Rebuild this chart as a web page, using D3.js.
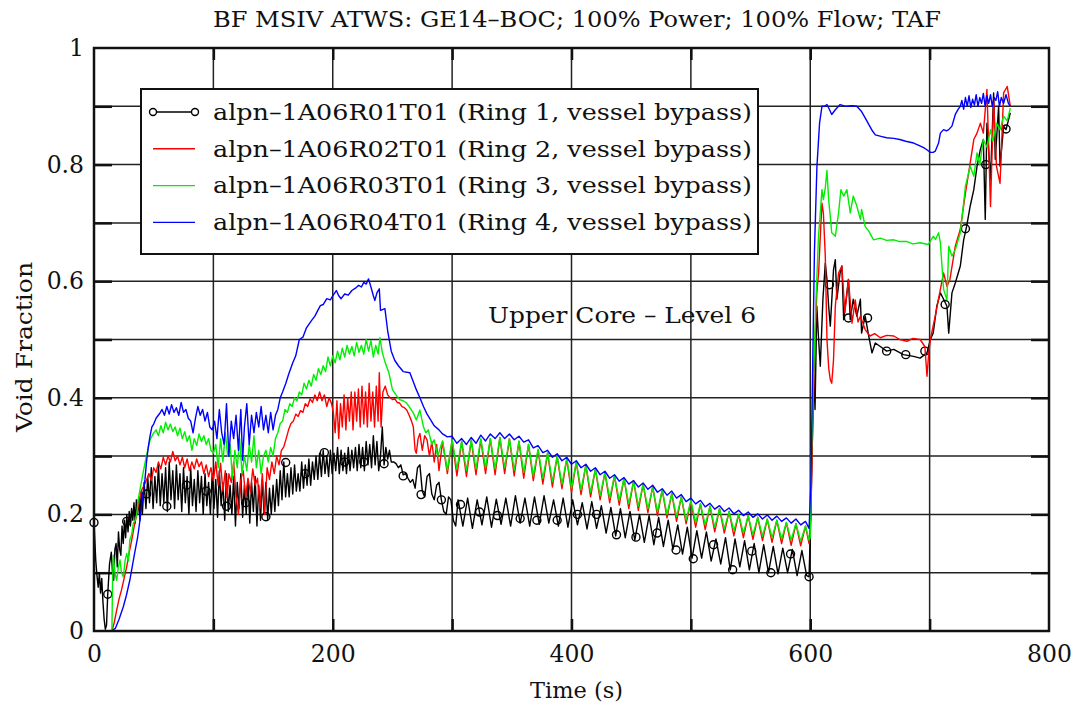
<!DOCTYPE html>
<html>
<head>
<meta charset="utf-8">
<script src="https://cdn.jsdelivr.net/npm/d3@7"></script>
<style>
    body { margin: 0; background: #fff; }
    text { font-family: "DejaVu Serif", serif; fill: #111; }
</style>
</head>
<body>
<div id="chart"></div>
<script>
// values, [time (s), void fraction]
const ring1 = [
    [0,0.186],[1.5,0.12],[2.5,0.095],[3.5,0.075],[4.5,0.1],[5.5,0.065],[6.5,0.09],[7.5,0.05],[8.5,0.02],[9.5,0.003],[10.5,0.01],[11.5,0.063],[13,0.115],[14.5,0.135],[15.5,0.1],
    [16.5,0.087],[17.5,0.14],[18.5,0.15],[19.5,0.11],[20.5,0.17],[21.5,0.14],[22.5,0.13],[23.5,0.18],[24.5,0.15],[25.5,0.19],[26.5,0.16],[27.5,0.2],[28.5,0.17],[29.5,0.205],
    [30.5,0.18],[31.5,0.21],[32.5,0.19],[33.5,0.22],[34.5,0.185],[35.5,0.225],[36.5,0.2],[37.5,0.23],[38.5,0.19],[39.5,0.24],[40.5,0.2],
    [42,0.255],[43.5,0.21],[45,0.265],[46.5,0.22],[48,0.28],[49.5,0.21],[51,0.265],[52.5,0.22],[54,0.285],[55.5,0.215],[57,0.27],[58.5,0.22],[60,0.28],[61.5,0.205],
    [63,0.29],[64.5,0.225],[66,0.275],[67.5,0.21],[69,0.285],[70.5,0.225],[72,0.27],[73.5,0.205],[75,0.28],[76.5,0.22],[78,0.265],[79.5,0.2],[81,0.28],[82.5,0.215],
    [84,0.26],[85.5,0.205],[87,0.275],[88.5,0.22],[90,0.265],[91.5,0.2],[93,0.27],[94.5,0.215],[96,0.255],[97.5,0.2],[99,0.27],[100.5,0.21],[102,0.26],[103.5,0.195],
    [105,0.275],[106.5,0.215],[108,0.255],[109.5,0.19],[111,0.27],[112.5,0.205],[114,0.25],[115.5,0.2],[117,0.265],[118.5,0.18],[120,0.255],[121.5,0.21],[123,0.27],
    [124.5,0.195],[126,0.25],[127.5,0.2],[129,0.26],[130.5,0.185],[132,0.255],[133.5,0.205],[135,0.265],[136.5,0.18],[138,0.25],[139.5,0.19],[141,0.26],[142.5,0.2],
    [144,0.255],[145.5,0.19],[147,0.245],[148.5,0.2],[150,0.25],[151.5,0.205],[153,0.26],[154.5,0.215],[156,0.275],[157.5,0.225],[159,0.29],[160.5,0.23],[162,0.27],
    [163.5,0.23],[165,0.28],[166.5,0.235],[168,0.285],[169.5,0.24],[171,0.27],[172.5,0.24],[174,0.29],[175.5,0.245],[177,0.285],[178.5,0.25],[180,0.295],[181.5,0.25],
    [183,0.29],[184.5,0.26],[186,0.3],[187.5,0.26],[189,0.305],[190.5,0.265],[192,0.31],[193.5,0.27],[195,0.3],[196.5,0.265],[198,0.31],[199.5,0.27],[201,0.305],
    [202.5,0.275],[204,0.315],[205.5,0.27],[207,0.31],[208.5,0.275],[210,0.305],[211.5,0.27],[213,0.315],[214.5,0.275],[216,0.31],[217.5,0.28],[219,0.315],[220.5,0.275],
    [222,0.32],[223.5,0.28],[225,0.315],[226.5,0.275],[228,0.325],[229.5,0.285],[231,0.32],[232.5,0.28],[234,0.335],[235.5,0.285],[237,0.325],[238.5,0.275],[240,0.3],
    [241.5,0.35],[243,0.285],[244.5,0.315],[246,0.295],[247.5,0.31],[249,0.29],
    [251,0.29],[253,0.287],[255,0.28],[257,0.285],[259,0.268],[261,0.27],[263,0.262],[265,0.255],[267,0.26],[269,0.245],[271,0.28],[273,0.285],[275,0.24],[277,0.23],
    [279,0.265],[281,0.27],[283,0.235],[285,0.225],[287,0.25],[289,0.255],[291,0.225],[293,0.205],[295,0.2],[297,0.23],[299,0.225],[301,0.19],[303,0.18],
    [305,0.225],[309,0.18],[313,0.228],[317,0.176],[321,0.225],[325,0.182],[329,0.23],[333,0.178],[337,0.226],[341,0.183],[345,0.228],[349,0.18],[353,0.232],[357,0.185],
    [361,0.228],[365,0.18],[369,0.23],[373,0.183],[377,0.232],[381,0.185],[385,0.225],[389,0.18],[393,0.228],[397,0.178],[401,0.225],[405,0.182],[409,0.22],[413,0.175],
    [417,0.222],[421,0.176],[425,0.215],[429,0.168],[433,0.212],[437,0.163],[441,0.21],[445,0.16],[449,0.205],[453,0.156],[457,0.2],[461,0.152],[465,0.198],[469,0.148],
    [473,0.195],[477,0.145],[481,0.19],[485,0.14],[489,0.182],[493,0.132],[497,0.178],[501,0.125],[505,0.172],[509,0.125],[513,0.17],[517,0.12],[521,0.158],[525,0.115],
    [529,0.16],[533,0.105],[537,0.158],[541,0.11],[545,0.155],[549,0.105],[553,0.15],[557,0.1],[561,0.148],[565,0.1],[569,0.145],[573,0.098],[577,0.142],[581,0.1],
    [585,0.14],[589,0.095],[593,0.138],[597,0.095],[599,0.093],
    [600.5,0.2],[602,0.35],[603,0.44],[604,0.38],[605.5,0.557],[607,0.5],[608.4,0.454],[610.6,0.569],[612.6,0.631],[614,0.603],[615.4,0.557],[616.8,0.523],[619.5,0.62],
    [621,0.637],[622.3,0.569],[625,0.614],[626.5,0.626],[628,0.534],[630.7,0.58],[632,0.603],[633.5,0.534],[636,0.569],[639,0.54],[642,0.569],[643,0.511],[646,0.54],
    [649,0.506],[651.7,0.477],[654.5,0.494],[658.7,0.488],[664,0.48],[670,0.483],[678,0.474],[686.6,0.471],[692,0.468],[697.8,0.477],[700.6,0.5],[703,0.511],[706,0.557],
    [709,0.58],[711.7,0.569],[714.5,0.557],[716,0.511],[718.7,0.58],[721.5,0.597],[725.7,0.626],[728.5,0.671],[731,0.694],[734,0.729],[737,0.757],[739.7,0.797],
    [742.5,0.826],[745,0.843],[746.6,0.706],[748,0.871],[751,0.774],[753.6,0.923],[755,0.809],[757.8,0.9],[759,0.797],[762,0.866],[764,0.86],[767.6,0.889]
];

const ring1Markers = [
    [0,0.186],[11.5,0.063],[27.4,0.188],[44,0.235],[61,0.214],[77.5,0.25],[94,0.24],[111,0.214],[127,0.22],[144,0.196],[160.6,0.289],[177,0.27],
    [193,0.306],[210,0.29],[226,0.29],[243,0.287],[259,0.266],[274,0.234],[291,0.225],[307,0.217],[323,0.204],[338,0.198],[357,0.193],[371,0.19],
    [388,0.19],[405,0.2],[421,0.2],[437.7,0.165],[454,0.161],[471.7,0.168],[487.6,0.139],[502,0.124],[519,0.148],[535,0.105],[551,0.137],[567,0.1],
    [583.5,0.132],[599,0.093],[616,0.594],[632,0.537],[648,0.537],[664,0.48],[680,0.474],[696,0.48],[713,0.56],[730,0.69],[747,0.8],[764,0.861]
];

const ring2 = [
    [15,0],[17,0.015],[19,0.036],[21,0.055],[23,0.07],[25,0.088],[27.4,0.11],[29.5,0.135],[31.6,0.156],[33.7,0.18],[35.8,0.2],[38,0.225],[40,0.242],[42,0.25],[44,0.259],
    [46,0.27],[48,0.258],[50,0.28],[52,0.272],[54,0.29],[56,0.278],[58,0.298],[60,0.285],[62,0.3],[64,0.29],[66,0.308],[68,0.292],[70,0.3],[72,0.285],[74,0.298],
    [76,0.28],[78,0.295],[80,0.275],[82,0.29],[84,0.278],[86,0.295],[88,0.282],[90,0.29],[92,0.27],[94,0.285],[96,0.265],[98,0.28],[100,0.258],
    [102,0.29],[104,0.25],[106,0.288],[108,0.24],[110,0.275],[111.5,0.228],[113,0.27],[115,0.255],[117,0.29],[119,0.23],[121,0.2],[123,0.26],[125,0.275],[127,0.23],
    [129,0.262],[131,0.238],[133,0.278],[135,0.25],[137,0.262],[139,0.21],[141,0.27],[143,0.2],[145,0.28],[147,0.26],[149,0.29],[151,0.27],[153,0.3],[155,0.285],[157,0.31],
    [159,0.316],[161,0.33],[163,0.345],[165,0.356],[167,0.36],[169,0.372],[171,0.368],[173,0.378],[175,0.375],[177,0.39],[179,0.385],[181,0.398],[183,0.392],[185,0.405],
    [187,0.395],[189,0.41],[191,0.395],[193,0.405],[195,0.385],[197,0.4],[199,0.39],
    [200.5,0.375],[202,0.34],[203.5,0.395],[205,0.33],[206.5,0.39],[208,0.35],[209.5,0.405],[211,0.345],[212.5,0.4],[214,0.36],[215.5,0.41],[217,0.345],[218.5,0.41],
    [220,0.36],[221.5,0.415],[223,0.35],[224.5,0.42],[226,0.355],[227.5,0.41],[229,0.35],[230.5,0.425],[232,0.36],[233.5,0.41],[235,0.35],[236.5,0.42],[238,0.36],
    [239,0.443],[240.5,0.35],[242,0.41],[244,0.42],
    [246,0.405],[248,0.4],[250,0.397],[252,0.398],[254,0.392],[256,0.391],[258,0.385],[260,0.383],[262,0.379],[264,0.37],[266,0.36],[267.5,0.35],[269,0.31],[270,0.305],
    [271.5,0.33],[273,0.339],[275,0.31],[277,0.335],[279,0.328],[281,0.3],[283,0.325],[285,0.29],[287,0.32],[289,0.275],
    [292,0.325],[296,0.27],[300,0.328],[304,0.266],[308,0.325],[312,0.265],[316,0.327],[320,0.268],[324,0.328],[328,0.27],[332,0.33],[336,0.268],[340,0.332],[344,0.27],
    [348,0.33],[352,0.266],[356,0.325],[360,0.262],[364,0.32],[368,0.258],[372,0.31],[376,0.252],[380,0.305],[384,0.247],[388,0.3],[392,0.244],[396,0.295],[400,0.238],
    [404,0.29],[408,0.234],[412,0.285],[416,0.23],[420,0.278],[424,0.225],[428,0.272],[432,0.22],[436,0.266],[440,0.216],[444,0.262],[448,0.21],[452,0.258],[456,0.207],
    [460,0.252],[464,0.203],[468,0.248],[472,0.198],[476,0.242],[480,0.194],[484,0.236],[488,0.188],[492,0.23],[496,0.184],[500,0.222],[504,0.178],[508,0.218],[512,0.174],
    [516,0.214],[520,0.17],[524,0.21],[528,0.168],[532,0.205],[536,0.163],[540,0.2],[544,0.16],[548,0.198],[552,0.157],[556,0.195],[560,0.155],[564,0.192],[568,0.152],
    [572,0.19],[576,0.15],[580,0.186],[584,0.147],[588,0.184],[592,0.146],[596,0.18],[599,0.15],
    [600.5,0.2],[602,0.35],[604,0.5],[605.5,0.58],[607,0.614],[608.5,0.68],[609.8,0.734],[611,0.717],[612.6,0.643],[614,0.5],[615.5,0.45],[616.8,0.431],[618,0.425],
    [619.5,0.465],[621,0.557],[623.7,0.614],[626.5,0.626],[629,0.546],[632,0.603],[635,0.528],[637.7,0.568],[640,0.53],[642,0.54],[646,0.517],[650,0.506],[654,0.51],
    [658.7,0.503],[664,0.507],[670,0.506],[675,0.5],[681,0.497],[686,0.502],[692,0.5],[696,0.488],[697.8,0.437],[699,0.47],[700.6,0.5],[704.7,0.54],[709,0.586],
    [711.7,0.614],[714.5,0.591],[717,0.603],[721.5,0.66],[725.7,0.689],[730,0.751],[734,0.803],[737,0.843],[739.7,0.854],[742.5,0.871],[745,0.854],[748,0.929],
    [751,0.728],[753.6,0.911],[756,0.797],[759,0.768],[762,0.923],[765,0.934],[767.6,0.9]
];

const ring3 = [
    [15,0],[15.5,0.08],[16.2,0.13],[17.5,0.1],[19,0.087],[20.4,0.11],[21.8,0.122],[23,0.1],[24.6,0.093],[26,0.12],[27.4,0.133],[28.8,0.12],[30,0.156],[31.5,0.165],
    [33,0.185],[34.5,0.19],[35.8,0.2],[37,0.225],[38.5,0.242],[40.5,0.265],[42.7,0.288],[45,0.31],[47,0.328],[49.7,0.339],
    [52,0.345],[54,0.335],[56,0.352],[58,0.34],[60,0.358],[62,0.345],[64,0.355],[66,0.342],[68,0.35],[70,0.335],[72,0.348],[74,0.33],[76,0.342],[78,0.325],[80,0.335],
    [82,0.31],[84,0.33],[86,0.318],[88,0.338],[90,0.325],[92,0.335],[94,0.32],[96,0.33],[98,0.31],[100,0.305],
    [102,0.32],[104,0.28],[106,0.33],[108,0.29],[110,0.34],[112,0.3],[114,0.32],[116,0.26],[118,0.31],[120,0.28],[122,0.33],[124,0.27],[126,0.3],[128,0.275],[130,0.32],
    [132,0.29],[134,0.335],[136,0.28],[138,0.31],[140,0.27],[142,0.3],[144,0.31],[146,0.29],[148,0.315],[150,0.3],[152,0.33],[154,0.34],[156,0.356],
    [158,0.36],[160,0.38],[162,0.375],[164,0.39],[166,0.385],[168,0.4],[170,0.395],[172,0.41],[174,0.405],[176,0.425],[178,0.415],[180,0.43],[182,0.42],[184,0.44],
    [186,0.43],[188,0.45],[190,0.44],[192,0.455],[194,0.445],[196,0.47],[198,0.455],[200,0.472],[202,0.46],[204,0.48],[206,0.465],[208,0.485],[210,0.47],[212,0.49],
    [214,0.475],[216,0.488],[218,0.472],[220,0.495],[222,0.478],[224,0.49],[226,0.475],[228,0.5],[230,0.48],[232,0.498],[234,0.47],[236,0.49],[238,0.475],[239.5,0.503],
    [241.6,0.477],[244,0.46],[247,0.443],[250,0.414],[253,0.405],[256,0.397],[259,0.395],[261.8,0.391],[264,0.385],[267.5,0.374],[270,0.362],[273,0.379],[276,0.35],
    [278,0.34],[280,0.345],[283,0.32],[285,0.328],[288,0.3],[290.6,0.318],
    [292,0.326],[296,0.276],[300,0.328],[304,0.278],[308,0.326],[312,0.275],[316,0.328],[320,0.278],[324,0.33],[328,0.28],[332,0.33],[336,0.278],[340,0.332],[344,0.28],
    [348,0.33],[352,0.276],[356,0.326],[360,0.272],[364,0.32],[368,0.266],[372,0.312],[376,0.262],[380,0.306],[384,0.256],[388,0.3],[392,0.252],[396,0.296],[400,0.245],
    [404,0.29],[408,0.242],[412,0.284],[416,0.238],[420,0.278],[424,0.232],[428,0.272],[432,0.228],[436,0.266],[440,0.224],[444,0.262],[448,0.218],[452,0.257],
    [456,0.214],[460,0.252],[464,0.21],[468,0.246],[472,0.205],[476,0.242],[480,0.2],[484,0.236],[488,0.196],[492,0.23],[496,0.19],[500,0.224],[504,0.186],[508,0.218],
    [512,0.182],[516,0.214],[520,0.178],[524,0.21],[528,0.175],[532,0.205],[536,0.172],[540,0.2],[544,0.168],[548,0.198],[552,0.165],[556,0.195],[560,0.163],[564,0.192],
    [568,0.16],[572,0.19],[576,0.158],[580,0.186],[584,0.156],[588,0.184],[592,0.154],[596,0.18],[599,0.156],[600,0.16],
    [601,0.3],[603,0.45],[605,0.58],[607,0.68],[607.8,0.7],[609.8,0.757],[611,0.74],[612.6,0.76],[614,0.79],[615.4,0.74],[616.8,0.711],[618,0.683],[621,0.677],
    [623.7,0.717],[625.7,0.757],[628,0.746],[630.7,0.757],[633.5,0.717],[636,0.746],[639,0.729],[642,0.706],[643,0.723],[646,0.694],[649,0.686],[653,0.671],
    [658.7,0.674],[664,0.67],[670,0.671],[675,0.668],[681,0.668],[686,0.664],[692,0.666],[699,0.663],[701,0.67],[703,0.677],[705,0.672],[707.5,0.683],[709,0.666],
    [711.7,0.586],[714.5,0.568],[716,0.66],[718.7,0.643],[721.5,0.654],[725.7,0.683],[730,0.763],[734,0.797],[737,0.78],[739.7,0.82],[742,0.8],[745,0.843],[748,0.83],
    [751,0.86],[753,0.84],[756,0.871],[759,0.86],[762,0.883],[765,0.875],[767.6,0.897]
];

const ring4 = [
    [15,0],[18,0.005],[21,0.02],[24.6,0.042],[27,0.06],[30,0.087],[32,0.11],[34,0.133],[36.5,0.16],[38.5,0.19],[40.5,0.225],[42.7,0.26],[44,0.29],[45.5,0.316],
    [47,0.335],[48.5,0.35],[50,0.355],[52,0.365],[55,0.373],
    [57,0.38],[59,0.37],[61,0.385],[63,0.372],[65,0.388],[67,0.375],[69,0.383],[71,0.37],[73,0.392],[75,0.375],[77,0.38],[79,0.365],[81,0.36],[83,0.34],[85,0.365],
    [87,0.385],[89,0.37],[91,0.38],[93,0.36],[95,0.375],
    [97,0.35],[99,0.345],[101,0.36],[103,0.33],[105,0.38],[107,0.34],[109,0.32],[111,0.39],[113,0.3],[115,0.36],[117,0.33],[119,0.37],[121,0.31],[123,0.38],
    [124.5,0.293],[126,0.35],[128,0.39],[130,0.32],[132,0.37],[134,0.34],[136,0.375],[138,0.35],[140,0.385],[142,0.345],[144,0.37],[146,0.34],[148,0.375],[150,0.345],
    [152,0.37],[154,0.38],[156,0.4],[158,0.41],[160.7,0.425],[163,0.44],[166.5,0.46],[169,0.472],[172,0.5],[175,0.504],[178,0.52],[182,0.532],[185,0.54],[189.6,0.558],
    [192,0.56],[195,0.57],[198,0.568],[200,0.575],[203,0.584],[205,0.575],[207,0.57],[210,0.578],[213,0.576],[216,0.584],[219,0.588],[221.7,0.593],[224,0.59],
    [226,0.598],[228,0.595],[230,0.604],[232.4,0.587],[234,0.575],[235.3,0.567],[237,0.58],[239,0.587],[240,0.55],[243.7,0.553],[246,0.515],[249,0.48],[252,0.464],
    [255,0.455],[259,0.445],[264.6,0.443],[267,0.43],[270,0.414],[273,0.4],[276,0.385],[279,0.372],[282,0.362],[285,0.352],[289,0.345],[292,0.338],[296,0.333],
    [300,0.334],[304,0.322],[308,0.33],[312,0.32],[316,0.332],[320,0.322],[324,0.336],[328,0.326],[332,0.338],[336,0.33],[340,0.34],[344,0.33],[348,0.338],[352,0.328],
    [356,0.334],[360,0.324],[364,0.328],[368,0.314],[372,0.318],[376,0.306],[380,0.31],[384,0.298],[388,0.304],[392,0.292],[396,0.298],[400,0.286],[404,0.292],
    [408,0.28],[412,0.286],[416,0.274],[420,0.28],[424,0.268],[428,0.274],[432,0.262],[436,0.268],[440,0.257],[444,0.263],[448,0.252],[452,0.258],[456,0.247],
    [460,0.254],[464,0.243],[468,0.25],[472,0.238],[476,0.244],[480,0.233],[484,0.24],[488,0.228],[492,0.234],[496,0.222],[500,0.228],[504,0.218],[508,0.224],
    [512,0.213],[516,0.219],[520,0.209],[524,0.215],[528,0.205],[532,0.211],[536,0.201],[540,0.207],[544,0.198],[548,0.204],[552,0.195],[556,0.201],[560,0.192],
    [564,0.199],[568,0.19],[572,0.197],[576,0.188],[580,0.194],[584,0.185],[588,0.192],[592,0.182],[596,0.188],[599,0.176],
    [600.5,0.25],[602,0.45],[603.5,0.65],[605.6,0.797],[607.8,0.871],[609.8,0.9],[612,0.9],[614,0.903],[616,0.895],[618,0.886],[621,0.894],[625,0.903],[630,0.9],
    [635,0.901],[639,0.9],[643,0.891],[646,0.88],[649,0.869],[652,0.858],[654.5,0.851],[660,0.848],[664,0.846],[670,0.845],[675,0.843],[680,0.84],[686.6,0.837],
    [690,0.834],[695,0.829],[698,0.825],[700.6,0.821],[703,0.821],[704.7,0.823],[707.5,0.837],[709,0.854],[711.7,0.86],[714,0.858],[716,0.86],[718.7,0.866],
    [721.5,0.886],[724,0.895],[725.7,0.9],[727,0.91],[728.5,0.895],[730,0.915],[731.5,0.9],[733,0.918],[734.5,0.898],[736,0.912],[737.5,0.902],[739,0.92],
    [740.5,0.9],[742,0.915],[743.5,0.905],[745,0.922],[746.5,0.9],[748,0.918],[749.5,0.905],[751,0.92],[752.5,0.9],[754,0.915],[755.5,0.91],[757,0.925],
    [758.5,0.9],[760,0.915],[762,0.905],[764,0.92],[766,0.905],[767.6,0.9]
];

const seriesNames = [
    "alpn\u20131A06R01T01 (Ring 1, vessel bypass)",
    "alpn\u20131A06R02T01 (Ring 2, vessel bypass)",
    "alpn\u20131A06R03T01 (Ring 3, vessel bypass)",
    "alpn\u20131A06R04T01 (Ring 4, vessel bypass)"
];
const xTicks = [0, 200, 400, 600, 800];
const xGrid = [100, 200, 300, 400, 500, 600, 700];
const yTicks = [0, 0.2, 0.4, 0.6, 0.8, 1];
const yTickLabels = ["0", "0.2", "0.4", "0.6", "0.8", "1"];
const yGrid = [0.1, 0.2, 0.3, 0.4, 0.5, 0.6, 0.7, 0.8, 0.9];

// the original face is wider than DejaVu Serif, so text is stretched to its measured width
function stretch(sel, w) {
    sel.attr("textLength", w).attr("lengthAdjust", "spacingAndGlyphs");
}

function voidPlot(div_id) {
    let width = 1079,
        height = 708,
        margin = { top: 48, right: 30, bottom: 77, left: 94 };
    let right = width - margin.right,
        bottom = height - margin.bottom;

    const svg = d3
        .select(div_id)
        .append("svg")
        .attr("width", width)
        .attr("height", height)
        .attr("viewBox", [0, 0, width, height]);

    let x = d3.scaleLinear().domain([0, 800]).range([margin.left, right]);
    let y = d3.scaleLinear().domain([0, 1]).range([bottom, margin.top]);

    // grid
    svg.append("g")
        .selectAll("line.vg")
        .data(xGrid)
        .join("line")
        .attr("x1", (d) => x(d))
        .attr("x2", (d) => x(d))
        .attr("y1", margin.top)
        .attr("y2", bottom)
        .attr("stroke", "#222")
        .attr("stroke-width", 1.5);
    svg.append("g")
        .selectAll("line.hg")
        .data(yGrid)
        .join("line")
        .attr("x1", margin.left)
        .attr("x2", right)
        .attr("y1", (d) => y(d))
        .attr("y2", (d) => y(d))
        .attr("stroke", "#222")
        .attr("stroke-width", 1.5);

    // inward ticks on all four sides
    let tickStyle = (g) => {
        g.select(".domain").remove();
        g.selectAll("line").attr("stroke", "#111").attr("stroke-width", 2.5);
    };
    svg.append("g")
        .attr("transform", `translate(${margin.left},0)`)
        .call(d3.axisLeft(y).tickValues(yGrid).tickSize(-18).tickFormat(""))
        .call(tickStyle);
    svg.append("g")
        .attr("transform", `translate(${right},0)`)
        .call(d3.axisRight(y).tickValues(yGrid).tickSize(-18).tickFormat(""))
        .call(tickStyle);
    svg.append("g")
        .attr("transform", `translate(0,${bottom})`)
        .call(d3.axisBottom(x).tickValues(xGrid).tickSize(-12).tickFormat(""))
        .call(tickStyle);
    svg.append("g")
        .attr("transform", `translate(0,${margin.top})`)
        .call(d3.axisTop(x).tickValues(xGrid).tickSize(-12).tickFormat(""))
        .call(tickStyle);

    svg.append("text")
        .attr("x", 488)
        .attr("y", y(0.528))
        .attr("font-size", 22)
        .text("Upper Core \u2013 Level 6")
        .call(stretch, 268);

    let line = d3
        .line()
        .x((d) => x(d[0]))
        .y((d) => y(d[1]));

    let all = [ring1, ring2, ring3, ring4];
    let colors = ["#000000", "#ff0000", "#00ee00", "#0000ff"];
    for (let i = 0; i < all.length; i++) {
        svg.append("path")
            .datum(all[i])
            .attr("fill", "none")
            .attr("stroke", colors[i])
            .attr("stroke-width", 1.4)
            .attr("stroke-linejoin", "round")
            .attr("d", line);
        if (i == 0) {
            svg.append("g")
                .selectAll("circle")
                .data(ring1Markers)
                .join("circle")
                .attr("cx", (d) => x(d[0]))
                .attr("cy", (d) => y(d[1]))
                .attr("r", 4)
                .attr("fill", "none")
                .attr("stroke", "#000")
                .attr("stroke-width", 1.4);
        }
    }

    // frame
    svg.append("rect")
        .attr("x", margin.left)
        .attr("y", margin.top)
        .attr("width", right - margin.left)
        .attr("height", bottom - margin.top)
        .attr("fill", "none")
        .attr("stroke", "#111")
        .attr("stroke-width", 2.5);

    // tick labels
    svg.append("g")
        .attr("transform", `translate(0,${bottom})`)
        .call(d3.axisBottom(x).tickValues(xTicks).tickSize(0).tickPadding(14))
        .call((g) => g.select(".domain").remove())
        .selectAll("text")
        .attr("font-family", "DejaVu Serif")
        .attr("font-size", 23.5)
        .attr("fill", "#111");
    svg.append("g")
        .attr("transform", `translate(${margin.left},0)`)
        .call(
            d3.axisLeft(y)
                .tickValues(yTicks)
                .tickSize(0)
                .tickPadding(10)
                .tickFormat((d, i) => yTickLabels[i])
        )
        .call((g) => g.select(".domain").remove())
        .selectAll("text")
        .attr("font-family", "DejaVu Serif")
        .attr("font-size", 23.5)
        .attr("fill", "#111");

    svg.append("text")
        .attr("x", 213)
        .attr("y", 27)
        .attr("font-size", 22)
        .text("BF MSIV ATWS: GE14\u2013BOC; 100% Power; 100% Flow; TAF")
        .call(stretch, 728);

    svg.append("text")
        .attr("x", 530)
        .attr("y", 698)
        .attr("font-size", 22)
        .text("Time (s)")
        .call(stretch, 93);

    svg.append("text")
        .attr("transform", "translate(32,432) rotate(-90)")
        .attr("font-size", 22)
        .text("Void Fraction")
        .call(stretch, 170);

    // legend
    let lg = svg.append("g").attr("class", "legend");
    lg.append("rect")
        .attr("x", 141)
        .attr("y", 89)
        .attr("width", 617)
        .attr("height", 165)
        .attr("fill", "#fff")
        .attr("stroke", "#111")
        .attr("stroke-width", 2);
    seriesNames.forEach((name, i) => {
        let cy = 112 + i * 36.8;
        lg.append("line")
            .attr("x1", 153)
            .attr("x2", 195)
            .attr("y1", cy)
            .attr("y2", cy)
            .attr("stroke", colors[i])
            .attr("stroke-width", 1.4);
        if (i == 0) {
            for (let cx of [153, 195]) {
                lg.append("circle")
                    .attr("cx", cx)
                    .attr("cy", cy)
                    .attr("r", 3.5)
                    .attr("fill", "#fff")
                    .attr("stroke", "#000")
                    .attr("stroke-width", 1.4);
            }
        }
        lg.append("text")
            .attr("x", 213)
            .attr("y", cy)
            .attr("dy", "0.36em")
            .attr("font-size", 21.5)
            .text(name)
            .call(stretch, 539);
    });
}

voidPlot("#chart");
</script>
</body>
</html>
